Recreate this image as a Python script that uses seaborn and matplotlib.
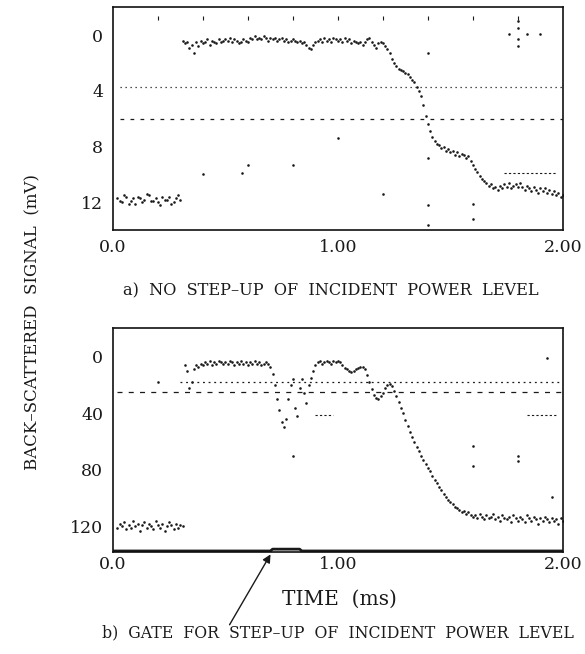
import matplotlib.pyplot as plt
import numpy as np
import pandas as pd
import seaborn as sns

# ---- panel a : back-scattered signal, no step-up (mV) ----
a_low_t = [0.02, 0.03, 0.04, 0.05, 0.06, 0.07, 0.08, 0.09, 0.10, 0.11,
           0.12, 0.13, 0.14, 0.15, 0.16, 0.17, 0.18, 0.19, 0.20, 0.21,
           0.22, 0.23, 0.24, 0.25, 0.26, 0.27, 0.28, 0.29, 0.30]
a_low_v = [11.7, 11.9, 12.0, 11.5, 11.6, 12.1, 11.9, 11.7, 12.1, 11.6,
           11.7, 12.0, 11.8, 11.4, 11.5, 11.9, 11.9, 11.7, 12.0, 12.2,
           11.6, 11.8, 11.8, 11.6, 12.1, 12.0, 11.7, 11.5, 11.8]

a_hi_t = [round(0.31 + 0.01 * i, 2) for i in range(170)]
a_hi_v = [0.4, 0.6, 0.5, 0.9, 0.7, 1.3, 0.5, 0.8, 0.4, 0.6,
          0.5, 0.3, 0.7, 0.4, 0.5, 0.6, 0.3, 0.5, 0.4, 0.3,
          0.4, 0.2, 0.5, 0.3, 0.4, 0.6, 0.5, 0.3, 0.4, 0.5,
          0.2, 0.3, 0.1, 0.3, 0.2, 0.3, 0.1, 0.2, 0.4, 0.2,
          0.3, 0.2, 0.4, 0.3, 0.2, 0.4, 0.3, 0.5, 0.4, 0.3,
          0.4, 0.5, 0.4, 0.6, 0.5, 0.7, 0.9, 1.0, 0.7, 0.5,
          0.4, 0.3, 0.5, 0.2, 0.4, 0.3, 0.5, 0.2, 0.3, 0.4,
          0.3, 0.5, 0.2, 0.4, 0.3, 0.6, 0.4, 0.5, 0.6, 0.5,
          0.7, 0.5, 0.3, 0.2, 0.5, 0.7, 0.9, 0.6, 0.5, 0.6,
          0.8, 1.0, 1.3, 1.7, 2.0, 2.2, 2.4, 2.5, 2.6, 2.7,
          2.8, 3.0, 3.2, 3.4, 3.7, 4.0, 4.4, 5.0, 5.8, 6.4,
          6.9, 7.3, 7.6, 7.8, 7.9, 8.1, 8.0, 8.3, 8.2, 8.4,
          8.3, 8.6, 8.4, 8.7, 8.5, 8.6, 8.8, 8.7, 9.0, 9.3,
          9.6, 9.8, 10.1, 10.3, 10.5, 10.6, 10.8, 10.7, 11.0, 10.9,
          11.1, 10.8, 11.0, 10.7, 10.9, 10.6, 11.0, 10.8, 10.7, 10.9,
          10.6, 10.9, 11.1, 10.8, 11.0, 11.2, 10.9, 11.1, 11.3, 11.0,
          11.2, 11.0, 11.3, 11.1, 11.4, 11.2, 11.5, 11.3, 11.6, 11.5]

a_stray_t = [1.40, 1.00, 0.60, 0.80, 0.40, 0.575, 1.40, 1.20, 1.40, 1.60, 1.60, 1.40,
             1.80, 1.80, 1.80, 1.80, 1.76, 1.84, 1.90]
a_stray_v = [1.3, 7.4, 9.3, 9.3, 10.0, 9.9, 8.8, 11.4, 12.2, 12.1, 13.2, 13.6,
             -1.0, -0.5, 0.3, 0.8, -0.1, -0.1, -0.1]

a_grid_t = [0.2, 0.4, 0.6, 0.8, 1.0, 1.2, 1.4, 1.6, 1.8]
a_grid_v = -1.2
a_short_t = [1.74, 1.97]
a_short_v = 9.9

a_dotted = 3.7
a_dashed = 6.0

# ---- panel b : gate for step-up of incident power level ----
b_low_t = [round(0.02 + 0.01 * i, 2) for i in range(30)]
b_low_v = [121, 118, 120, 117, 122, 119, 121, 116, 120, 118,
           123, 119, 117, 121, 118, 120, 122, 116, 119, 121,
           118, 123, 120, 117, 119, 122, 118, 121, 119, 120]

b_hi_t = [round(0.32 + 0.01 * i, 2) for i in range(169)]
b_hi_v = [6, 10, 22, 18, 9, 6, 7, 5, 6,
          4, 5, 3, 6, 4, 5, 3, 4, 5, 4,
          5, 3, 4, 6, 4, 5, 3, 5, 4, 6,
          4, 5, 3, 5, 4, 6, 5, 4, 5, 7,
          12, 20, 30, 38, 46, 50, 44, 30, 20, 16,
          36, 42, 22, 16, 26, 33, 20, 15, 10, 6,
          4, 3, 5, 4, 3, 4, 5, 3, 4, 3,
          4, 6, 8, 9, 10, 11, 10, 9, 8, 7,
          7, 9, 13, 18, 23, 27, 29, 30, 28, 26,
          22, 20, 19, 21, 24, 28, 32, 36, 40, 45,
          49, 53, 57, 60, 64, 67, 70, 73, 76, 79,
          81, 84, 87, 89, 92, 94, 97, 99, 101, 103,
          104, 106, 107, 108, 110, 109, 111, 110, 112, 113,
          112, 114, 111, 113, 115, 112, 114, 113, 111, 115,
          113, 116, 112, 114, 115, 113, 117, 112, 114, 116,
          113, 115, 117, 112, 114, 116, 113, 115, 118, 114,
          116, 113, 115, 117, 114, 116, 115, 118, 114, 116]

b_stray_t = [1.60, 1.60, 1.80, 1.80, 0.80, 1.95, 1.93, 0.20]
b_stray_v = [63, 77, 70, 74, 70, 99, 1, 17.6]
b_short1_t = [0.90, 0.98]
b_short2_t = [1.84, 1.98]
b_short_v = 41

b_dotted = 17.6
b_dashed = 25

gate_t = [0.0, 0.70, 0.71, 0.83, 0.84, 2.0]
gate_v = [137.3, 137.3, 136.0, 136.0, 137.3, 137.3]

# ---- figure ----
sns.set_theme(style="white")
plt.rcParams["font.family"] = ["DejaVu Serif"]
plt.rcParams["axes.edgecolor"] = "#111111"
plt.rcParams["axes.linewidth"] = 1.2

fig = plt.figure(figsize=(5.85, 6.54), dpi=100)
ax_a = fig.add_axes([0.193, 0.648, 0.769, 0.341])
ax_b = fig.add_axes([0.193, 0.156, 0.769, 0.342])

ink = "#1a1a1a"
dot = dict(color=ink, s=3.5, linewidth=0, legend=False)

df_a = pd.DataFrame({"t": a_low_t + a_hi_t, "v": a_low_v + a_hi_v})
sns.scatterplot(data=df_a, x="t", y="v", ax=ax_a, **dot)
sns.scatterplot(x=a_stray_t, y=a_stray_v, ax=ax_a, **dot)
ax_a.scatter(a_grid_t, [a_grid_v] * len(a_grid_t), marker="|", s=12, color=ink, linewidths=0.8)
ax_a.hlines(a_dotted, 0.03, 2.0, colors=ink, linestyles=(0, (1, 3)), linewidth=0.9)
ax_a.hlines(a_dashed, 0.03, 2.0, colors=ink, linestyles=(0, (3, 5)), linewidth=0.9)
ax_a.hlines(a_short_v, a_short_t[0], a_short_t[1], colors=ink, linestyles=(0, (2, 2)), linewidth=0.8)

df_b = pd.DataFrame({"t": b_low_t + b_hi_t, "v": b_low_v + b_hi_v})
sns.scatterplot(data=df_b, x="t", y="v", ax=ax_b, **dot)
sns.scatterplot(x=b_stray_t, y=b_stray_v, ax=ax_b, **dot)
ax_b.hlines(b_dotted, 0.30, 2.0, colors=ink, linestyles=(0, (1.5, 3)), linewidth=0.9)
ax_b.hlines(b_dashed, 0.02, 2.0, colors=ink, linestyles=(0, (4, 5)), linewidth=0.9)
ax_b.hlines(b_short_v, b_short1_t[0], b_short1_t[1], colors=ink, linestyles=(0, (2, 2)), linewidth=0.8)
ax_b.hlines(b_short_v, b_short2_t[0], b_short2_t[1], colors=ink, linestyles=(0, (2, 2)), linewidth=0.8)
sns.lineplot(x=gate_t, y=gate_v, ax=ax_b, color=ink, linewidth=2.0, estimator=None, sort=False)

for ax, ylim, yt, xpad in [(ax_a, (14, -2), [0, 4, 8, 12], 6), (ax_b, (138, -20), [0, 40, 80, 120], 3)]:
    ax.set_xlim(0, 2.0)
    ax.set_ylim(*ylim)
    ax.set_xticks([0, 1.0, 2.0])
    ax.set_xticklabels(["0.0", "1.00", "2.00"])
    ax.set_yticks(yt)
    ax.tick_params(axis="x", direction="in", length=7, width=1, pad=xpad, labelsize=12.5, colors=ink)
    ax.tick_params(axis="y", length=0, pad=7, labelsize=12.5, colors=ink)
    ax.set_xlabel("")
    ax.set_ylabel("")
    for s in ax.spines.values():
        s.set_visible(True)

fig.text(0.566, 0.556, "a)  NO  STEP–UP  OF  INCIDENT  POWER  LEVEL",
         ha="center", va="center", fontsize=11.6, color=ink)
fig.text(0.58, 0.083, "TIME  (ms)", ha="center", va="center", fontsize=14.5, color=ink)
fig.text(0.577, 0.032, "b)  GATE  FOR  STEP–UP  OF  INCIDENT  POWER  LEVEL",
         ha="center", va="center", fontsize=11.3, color=ink)
fig.text(0.056, 0.508, "BACK–SCATTERED  SIGNAL  (mV)", rotation=90,
         ha="center", va="center", fontsize=12, color=ink)

ax_b.annotate("", xy=(0.707, 138), xycoords="data",
              xytext=(0.390, 0.041), textcoords="figure fraction",
              arrowprops=dict(arrowstyle="-|>", color=ink, lw=1.0, mutation_scale=12))

fig.savefig("out.png", dpi=100, facecolor="white")
